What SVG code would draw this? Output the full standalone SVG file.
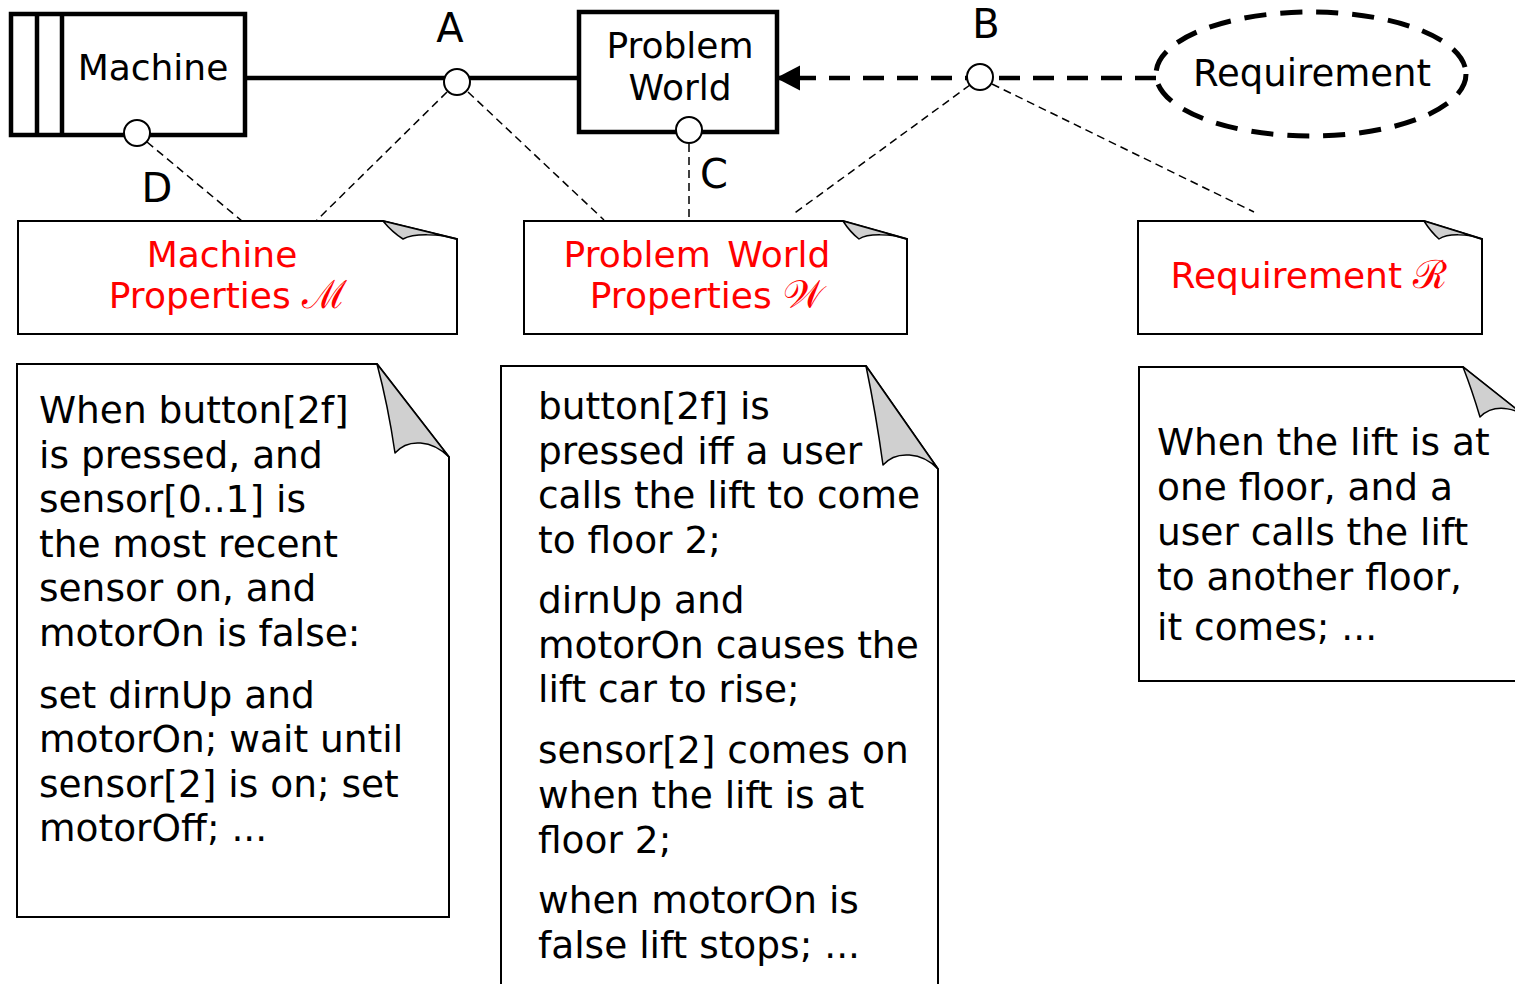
<svg xmlns="http://www.w3.org/2000/svg" width="1515" height="984" viewBox="0 0 1515 984">
<defs>
<style>
text{font-family:"DejaVu Sans","Verdana",sans-serif;fill:#000}
.lbl{font-size:36px;text-anchor:middle}
.big{font-size:40px;text-anchor:middle}
.red{font-size:36px;fill:#ff0000;text-anchor:middle}
.body{font-size:37.5px}
.scr{font-family:"DejaVu Serif","Liberation Serif",serif;font-size:39px}
.box{fill:#fff;stroke:#000;stroke-width:4.5}
.note{fill:#fff;stroke:#000;stroke-width:2}
.curl{fill:#d0d0d0;stroke:#000;stroke-width:1.5;stroke-linejoin:round}
.port{fill:#fff;stroke:#000;stroke-width:2}
.thin{fill:none;stroke:#000;stroke-width:1.5;stroke-dasharray:8 5}
</style>
<marker id="tri" markerWidth="26" markerHeight="26" refX="24" refY="12.5" orient="auto" markerUnits="userSpaceOnUse">
<path d="M0,0 L24,12.5 L0,25 Z" fill="#000"/>
</marker>
</defs>

<g id="connectors">
<line x1="246" y1="78" x2="578" y2="78" stroke="#000" stroke-width="4.5"/>
<line x1="1156" y1="78" x2="776" y2="78" stroke="#000" stroke-width="4.5" stroke-dasharray="21 13" marker-end="url(#tri)"/>
<line class="thin" x1="147" y1="142" x2="242" y2="221"/>
<line class="thin" x1="447" y1="92" x2="316" y2="221"/>
<line class="thin" x1="468" y1="92" x2="604" y2="220"/>
<line class="thin" x1="689" y1="144" x2="689" y2="221"/>
<line class="thin" x1="970" y1="85" x2="792" y2="215"/>
<line class="thin" x1="992" y1="84" x2="1254" y2="212"/>
<text class="big" x="450" y="42">A</text>
<text class="big" x="986" y="38">B</text>
<text class="big" x="714" y="188">C</text>
<text class="big" x="157" y="202">D</text>
</g>

<g id="machine">
<rect class="box" x="11" y="14" width="234" height="121"/>
<line x1="37" y1="14" x2="37" y2="135" stroke="#000" stroke-width="4.5"/>
<line x1="62" y1="14" x2="62" y2="135" stroke="#000" stroke-width="4.5"/>
<text class="lbl" x="153" y="80">Machine</text>
</g>

<g id="problem-world">
<rect class="box" x="579" y="12" width="198" height="120"/>
<text class="lbl" x="680" y="58">Problem</text>
<text class="lbl" x="680" y="100">World</text>
</g>

<g id="requirement">
<ellipse cx="1311" cy="74" rx="155" ry="62" fill="#fff" stroke="#000" stroke-width="5" stroke-dasharray="22 14"/>
<text class="lbl" x="1312" y="86" style="font-size:37px">Requirement</text>
</g>

<g id="ports">
<circle class="port" cx="457" cy="82" r="13"/>
<circle class="port" cx="980" cy="77" r="13"/>
<circle class="port" cx="137" cy="133" r="13"/>
<circle class="port" cx="689" cy="130" r="13"/>
</g>

<g id="machine-properties">
<path class="note" d="M18,221 L383,221 L457,239 L457,334 L18,334 Z"/>
<path class="curl" d="M383,221 L457,239 C440,234 414,233 403,239 Q392,232 383,221 Z"/>
<text class="red" x="222" y="267">Machine</text>
<text class="red" x="228" y="308">Properties <tspan class="scr">ℳ</tspan></text>
</g>

<g id="problem-world-properties">
<path class="note" d="M524,221 L843,221 L907,239 L907,334 L524,334 Z"/>
<path class="curl" d="M843,221 L907,239 C892,234 868,233 859,239 Q850,232 843,221 Z"/>
<text class="red" x="697" y="267" word-spacing="5">Problem World</text>
<text class="red" x="707" y="308">Properties <tspan class="scr">𝒲</tspan></text>
</g>

<g id="requirement-r">
<path class="note" d="M1138,221 L1424,221 L1482,239 L1482,334 L1138,334 Z"/>
<path class="curl" d="M1424,221 L1482,239 C1468,234 1448,233 1439,239 Q1431,232 1424,221 Z"/>
<text class="red" x="1309" y="288">Requirement <tspan class="scr">ℛ</tspan></text>
</g>

<g id="machine-spec">
<path class="note" d="M17,364 L377,364 L449,457 L449,917 L17,917 Z"/>
<path class="curl" d="M377,364 L449,457 C432,440 408,438 395,453 Q388,405 377,364 Z"/>
<text class="body" x="39" y="423">When button[2f]</text>
<text class="body" x="39" y="468">is pressed, and</text>
<text class="body" x="39" y="512">sensor[0..1] is</text>
<text class="body" x="39" y="557">the most recent</text>
<text class="body" x="39" y="601">sensor on, and</text>
<text class="body" x="39" y="646">motorOn is false:</text>
<text class="body" x="39" y="708">set dirnUp and</text>
<text class="body" x="39" y="752">motorOn; wait until</text>
<text class="body" x="39" y="797">sensor[2] is on; set</text>
<text class="body" x="39" y="841">motorOff; ...</text>
</g>

<g id="world-spec">
<path class="note" d="M501,366 L866,366 L938,469 L938,995 L501,995 Z"/>
<path class="curl" d="M866,366 L938,469 C922,452 896,450 883,465 Q876,414 866,366 Z"/>
<text class="body" x="538" y="419">button[2f] is</text>
<text class="body" x="538" y="464">pressed iff a user</text>
<text class="body" x="538" y="508">calls the lift to come</text>
<text class="body" x="538" y="553">to floor 2;</text>
<text class="body" x="538" y="613">dirnUp and</text>
<text class="body" x="538" y="658">motorOn causes the</text>
<text class="body" x="538" y="702">lift car to rise;</text>
<text class="body" x="538" y="763">sensor[2] comes on</text>
<text class="body" x="538" y="808">when the lift is at</text>
<text class="body" x="538" y="853">floor 2;</text>
<text class="body" x="538" y="913">when motorOn is</text>
<text class="body" x="538" y="958">false lift stops; ...</text>
</g>

<g id="requirement-spec">
<path class="note" d="M1139,367 L1463,367 L1535,424 L1535,681 L1139,681 Z"/>
<path class="curl" d="M1463,367 L1535,424 C1520,408 1495,402 1480,417 Q1472,390 1463,367 Z"/>
<text class="body" x="1157" y="455">When the lift is at</text>
<text class="body" x="1157" y="500">one floor, and a</text>
<text class="body" x="1157" y="545">user calls the lift</text>
<text class="body" x="1157" y="590">to another floor,</text>
<text class="body" x="1157" y="640">it comes; ...</text>
</g>
</svg>
